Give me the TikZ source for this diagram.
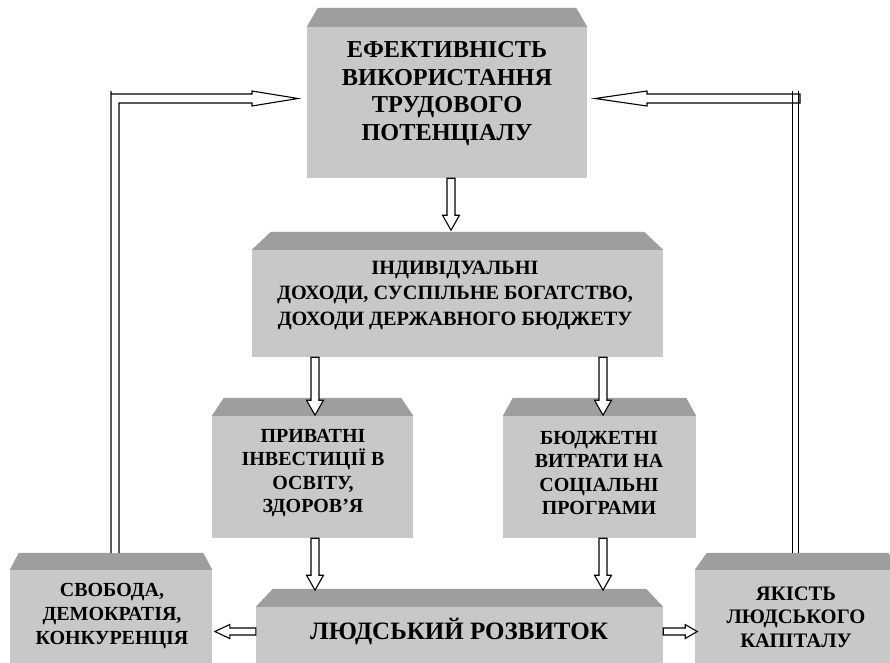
\documentclass[tikz,border=0pt]{standalone}
\usepackage{fontspec}
\setmainfont{Liberation Serif}
\definecolor{facec}{RGB}{200,200,200}
\definecolor{bevelc}{RGB}{158,158,158}
\tikzset{
  face/.style={rectangle, draw=none, fill=facec, inner sep=0pt},
  bevel/.style={fill=bevelc},
  lbl/.style={align=center, inner sep=0pt, font=\bfseries},
  blockarrow/.style={draw=black, fill=white, line width=1.1pt, line join=miter},
  fbline/.style={draw=black, line width=1.1pt}
}
% name, x1, y1, x2, y2, inset, bevel height
\newcommand\bevbox[7]{%
  \node[face, minimum width={(#4-#2)*1pt}, minimum height={(#5-#3)*1pt}] (#1) at ({(#2+#4)/2},{(#3+#5)/2}) {};
  \fill[bevel] (#1.north west) -- ([xshift=#6pt,yshift=#7pt]#1.north west) -- ([xshift=-#6pt,yshift=#7pt]#1.north east) -- (#1.north east) -- cycle;}
% down block arrow: start coordinate, total length
\newcommand\blockdown[2]{%
  \draw[blockarrow] (#1) ++(-4,0) -- ++(0,#2-15) -- ++(-4.5,0) -- ++(8.5,15) -- ++(8.5,-15) -- ++(-4.5,0) -- ++(0,-#2+15) -- cycle;}
\begin{document}
\begin{tikzpicture}[x=1pt,y=-1pt]
\clip (0,0) rectangle (890,662);
\fill[white] (0,0) rectangle (890,662);
% boxes
\bevbox{eff}{307}{27}{587}{178}{11}{19}
\bevbox{inc}{252}{250}{663}{357}{19}{18}
\bevbox{priv}{212}{416}{413}{538}{12}{18}
\bevbox{budg}{503}{416}{696}{538}{10}{18}
\bevbox{hd}{256}{607}{663}{690}{17}{18}
\bevbox{free}{10}{570}{212}{690}{9}{17}
\bevbox{qual}{695}{570}{900}{690}{12}{17}
% texts
\node[lbl, font=\bfseries\fontsize{24.3}{27.7}\selectfont] (effT) at (447,93.5) {ЕФЕКТИВНІСТЬ\\ВИКОРИСТАННЯ\\ТРУДОВОГО\\ПОТЕНЦІАЛУ};
\node[lbl, font=\bfseries\fontsize{20.3}{25.5}\selectfont] (incT) at (455,295) {ІНДИВІДУАЛЬНІ\\ДОХОДИ, СУСПІЛЬНЕ БОГАТСТВО,\\ДОХОДИ ДЕРЖАВНОГО БЮДЖЕТУ};
\node[lbl, font=\bfseries\fontsize{20}{23.5}\selectfont] (privT) at (313,473) {ПРИВАТНІ\\ІНВЕСТИЦІЇ В\\ОСВІТУ,\\ЗДОРОВ’Я};
\node[lbl, font=\bfseries\fontsize{20}{23.5}\selectfont] (budgT) at (599,473) {БЮДЖЕТНІ\\ВИТРАТИ НА\\СОЦІАЛЬНІ\\ПРОГРАМИ};
\node[lbl, font=\bfseries\fontsize{25}{30}\selectfont] (hdT) at (459,632) {ЛЮДСЬКИЙ РОЗВИТОК};
\node[lbl, font=\bfseries\fontsize{20}{24}\selectfont] (freeT) at (112,616) {СВОБОДА,\\ДЕМОКРАТІЯ,\\КОНКУРЕНЦІЯ};
\node[lbl, font=\bfseries\fontsize{20.6}{23.5}\selectfont] (qualT) at (796,617) {ЯКІСТЬ\\ЛЮДСЬКОГО\\КАПІТАЛУ};
% down arrows
\coordinate (a1) at (eff.south -| 451,0);
\coordinate (a2) at (inc.south -| 315,0);
\coordinate (a3) at (inc.south -| 603,0);
\coordinate (a4) at (priv.south -| 315,0);
\coordinate (a5) at (budg.south -| 603,0);
\blockdown{a1}{52}
\blockdown{a2}{58}
\blockdown{a3}{58}
\blockdown{a4}{52}
\blockdown{a5}{52}
% horizontal arrows at bottom
\coordinate (hl) at (hd.west |- 0,631.5);
\coordinate (hr) at (hd.east |- 0,631.5);
\draw[blockarrow] (hl) ++(0,-3.5) -- ++(-26,0) -- ++(0,-3.5) -- ++(-15,7) -- ++(15,7) -- ++(0,-3.5) -- ++(26,0) -- cycle;
\draw[blockarrow] (hr) ++(0,-3.5) -- ++(22,0) -- ++(0,-3.5) -- ++(12,7) -- ++(-12,7) -- ++(0,-3.5) -- ++(-22,0) -- cycle;
% left feedback arrow
\coordinate (fl) at (111,553);
\draw[blockarrow] (fl) -- (111,91) -- (111,94) -- (252,94) -- (252,91) -- (298,98.5) -- (252,106) -- (252,103) -- (119,103) -- (119,553);
% right feedback arrow
\draw[blockarrow] (595,98.5) -- (647,91) -- (647,94) -- (800,94) -- (800,103) -- (647,103) -- (647,106) -- cycle;
\coordinate (fr1) at (792.5,553);
\coordinate (fr2) at (798.5,553);
\draw[fbline] (fr1) -- (792.5,91);
\draw[fbline] (fr2) -- (798.5,91);
\end{tikzpicture}
\end{document}
